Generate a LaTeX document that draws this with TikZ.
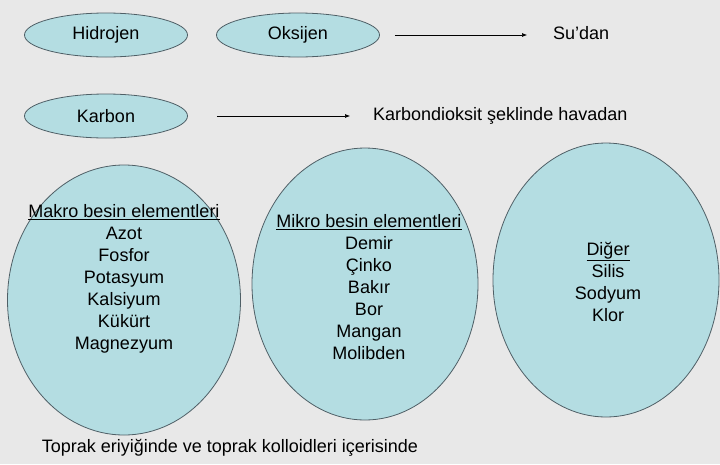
\documentclass[tikz,border=0pt]{standalone}
\usepackage{fontspec}
\setmainfont{Liberation Sans}
\usetikzlibrary{shapes.geometric}
\usetikzlibrary{arrows.meta}
\definecolor{pale}{HTML}{B4DDE2}
\definecolor{rim}{HTML}{4F5F66}
\definecolor{paper}{HTML}{E8E8E8}

\begin{document}
\begin{tikzpicture}[x=1pt, y=-1pt, font=\fontsize{18}{22}\selectfont,
  blob/.style={ellipse, draw=rim, fill=pale, line width=0.8pt, inner sep=0pt},
  pill/.style={blob, minimum width=163pt, minimum height=44pt},
  list/.style={align=center, inner sep=0pt},
  flow/.style={-{Latex[length=5pt,width=4pt]}, line width=0.6pt}]
\fill [paper] (0,0) rectangle (720,464);
\useasboundingbox (0,0) rectangle (720,464);

% gases taken from water and air
\node [pill] (hid) at (106,35) {Hidrojen};
\node [pill] (oks) at (298,35) {Oksijen};
\node [pill] (kar) at (106,116) {Karbon};
\node [list, anchor=west] (su) at (553,33) {Su'dan};
\node [list, anchor=west] (hava) at (373,116) {Karbondioksit şeklinde havadan};
\draw [flow, shorten <=15pt, shorten >=26pt] (oks.east) -- (oks.east -| su.west);
\draw [flow, shorten <=29pt, shorten >=23pt] (kar.east) -- (hava.west);

% the three groups of soil elements
\node [blob, minimum width=233pt, minimum height=270pt] (makro) at (124,300) {};
\node [blob, minimum width=226pt, minimum height=272pt] (mikro) at (365,284) {};
\node [blob, minimum width=226pt, minimum height=274pt] (diger) at (606,280) {};

\node [list] (makrot) at (124,279) {\underline{Makro besin elementleri}\\Azot\\Fosfor\\Potasyum\\Kalsiyum\\Kükürt\\Magnezyum};
\node [list] (mikrot) at (369,287) {\underline{Mikro besin elementleri}\\Demir\\Çinko\\Bakır\\Bor\\Mangan\\Molibden};
\node [list] (digert) at (608,282) {\underline{Diğer}\\Silis\\Sodyum\\Klor};

\node [list] (toprak) at (230,448) {Toprak eriyiğinde ve toprak kolloidleri içerisinde};
\end{tikzpicture}
\end{document}
